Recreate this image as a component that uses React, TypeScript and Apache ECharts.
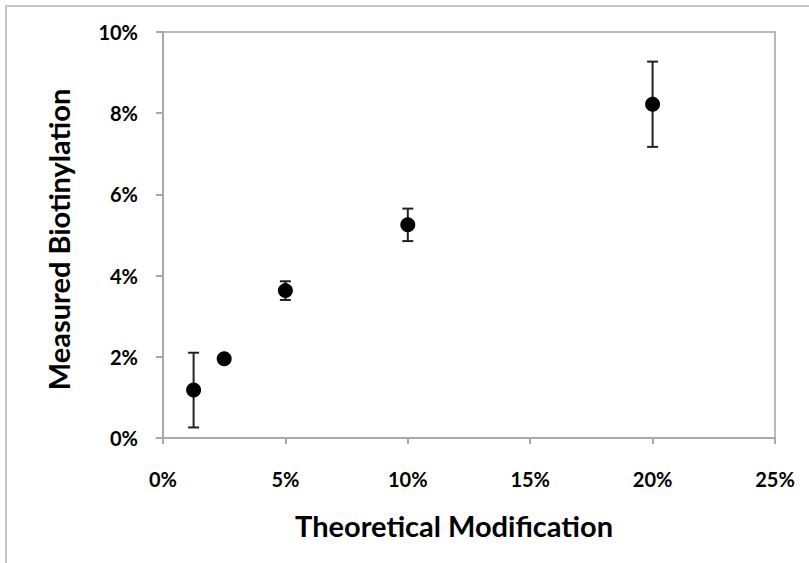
import React, { useEffect, useRef } from "react";
import * as echarts from "echarts";

const xValues = [1.25, 2.5, 5, 10, 20];
const yValues = [1.18, 1.95, 3.63, 5.25, 8.22];
const yErrors = [0.92, 0.04, 0.23, 0.4, 1.05];

const xTitle = "Theoretical Modification";
const yTitle = "Measured Biotinylation";

const FONT = "Lato, 'Open Sans', sans-serif";

export default function App() {
  const ref = useRef<HTMLDivElement>(null);
  useEffect(() => {
    if (!ref.current) return;
    const chart = echarts.init(ref.current, undefined, { renderer: "svg" });
    const points = xValues.map((x, i) => [x, yValues[i]]);
    const errData = xValues.map((x, i) => [x, yValues[i] - yErrors[i], yValues[i] + yErrors[i]]);
    chart.setOption({
      animation: false,
      backgroundColor: "#ffffff",
      graphic: [
        {
          type: "rect",
          shape: { x: 6, y: 6, width: 830, height: 600 },
          style: { fill: "none", stroke: "#c4c4c4", lineWidth: 2 },
          silent: true,
        },
      ],
      grid: {
        left: 163,
        top: 32,
        right: 34,
        bottom: 125,
        show: true,
        borderColor: "#b8b8b8",
        borderWidth: 2,
        backgroundColor: "transparent",
      },
      xAxis: {
        type: "value",
        min: 0,
        max: 25,
        interval: 5,
        name: xTitle,
        nameLocation: "middle",
        nameGap: 73,
        nameTextStyle: {
          fontFamily: FONT,
          fontWeight: "bold",
          fontSize: 29,
          color: "#000",
          padding: [0, 30, 0, 0],
        },
        axisLine: { show: true, onZero: false, lineStyle: { color: "#a8a8a8", width: 2 } },
        axisTick: { show: true, inside: false, length: 6, lineStyle: { color: "#a8a8a8", width: 2 } },
        axisLabel: {
          formatter: "{value}%",
          margin: 31,
          fontFamily: FONT,
          fontWeight: "bold",
          fontSize: 20,
          color: "#000",
        },
        splitLine: { show: false },
      },
      yAxis: {
        type: "value",
        min: 0,
        max: 10,
        interval: 2,
        name: yTitle,
        nameLocation: "middle",
        nameGap: 90,
        nameTextStyle: {
          fontFamily: FONT,
          fontWeight: "bold",
          fontSize: 29,
          color: "#000",
          padding: [0, 9, 0, 0],
        },
        axisLine: { show: true, onZero: false, lineStyle: { color: "#a8a8a8", width: 2 } },
        axisTick: { show: true, inside: false, length: 7, lineStyle: { color: "#a8a8a8", width: 2 } },
        axisLabel: {
          formatter: "{value}%",
          margin: 25,
          fontFamily: FONT,
          fontWeight: "bold",
          fontSize: 20,
          color: "#000",
        },
        splitLine: { show: false },
      },
      series: [
        {
          type: "custom",
          data: errData,
          z: 2,
          renderItem: (params: any, api: any) => {
            const x = api.value(0);
            const lo = api.coord([x, api.value(1)]);
            const hi = api.coord([x, api.value(2)]);
            const half = 5.5;
            const st = { stroke: "#222", lineWidth: 2 };
            return {
              type: "group",
              children: [
                { type: "line", shape: { x1: lo[0], y1: lo[1], x2: hi[0], y2: hi[1] }, style: st },
                { type: "line", shape: { x1: lo[0] - half, y1: lo[1], x2: lo[0] + half, y2: lo[1] }, style: st },
                { type: "line", shape: { x1: hi[0] - half, y1: hi[1], x2: hi[0] + half, y2: hi[1] }, style: st },
              ],
            };
          },
        },
        {
          type: "scatter",
          data: points,
          symbol: "circle",
          symbolSize: 15,
          z: 3,
          itemStyle: { color: "#000", opacity: 1 },
        },
      ],
    });
    return () => chart.dispose();
  }, []);
  return (
    <div
      ref={ref}
      style={{ position: "fixed", left: 0, top: 0, width: 809, height: 563 }}
    />
  );
}
